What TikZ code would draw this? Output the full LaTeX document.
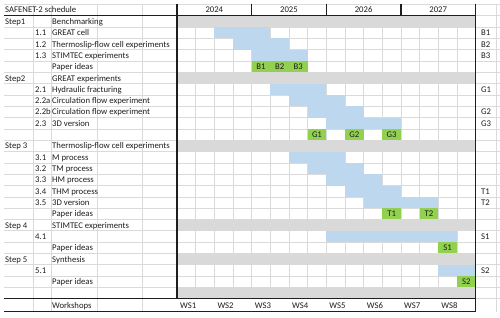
\documentclass[tikz,border=0pt]{standalone}
\usepackage{fontspec}
\setmainfont{Carlito}
\definecolor{gridgray}{HTML}{DADADA}
\definecolor{stepgray}{HTML}{D9D9D9}
\definecolor{barblue}{HTML}{BDD7EE}
\definecolor{papergreen}{HTML}{92D050}
\definecolor{ink}{HTML}{1E1E1E}
\begin{document}
\begin{tikzpicture}[x=1pt,y=-1pt,
  font=\fontsize{8.7}{9.5}\selectfont,
  gridline/.style={draw=gridgray, line width=0.6pt},
  heavy/.style={draw=ink, line width=1.2pt},
  txt/.style={anchor=base west, inner sep=0pt, text=ink},
  ctr/.style={anchor=base, inner sep=0pt, text=ink},
  graybar/.style={fill=stepgray},
  bluebar/.style={fill=barblue},
  greenbar/.style={fill=papergreen}]
\useasboundingbox[fill=white] (0,0) rectangle (500,317);
\def\rh{11.32}
\def\ty{15.7}
\def\gx{177}
\def\qw{18.66}
% grid lines
\foreach \i in {0,...,25} {
  \draw[gridline] (4,{\ty+\rh*\i}) -- (500,{\ty+\rh*\i});
}
\draw[gridline] (4,4) -- (500,4);
\foreach \x in {33,51,97,142} {
  \draw[gridline] (\x,4) -- (\x,311.5);
}
\foreach \q in {1,...,15} {
  \draw[gridline] ({\gx+\qw*\q},\ty) -- ({\gx+\qw*\q},{\ty+\rh*25});
}
\draw[gridline] (496,4) -- (496,311.5);
% helper for cells
\newcommand\gcell[4]{\fill[#4] ({\gx+\qw*#2},{\ty+\rh*#1}) rectangle ({\gx+\qw*(#3+1)},{\ty+\rh*(#1+1)});}
% gray step rows
\foreach \r in {0,5,11,18,21,24} { \gcell{\r}{0}{15}{graybar} }
% blue bars
\gcell{1}{2}{4}{bluebar}
\gcell{2}{3}{5}{bluebar}
\gcell{3}{4}{6}{bluebar}
\gcell{6}{5}{7}{bluebar}
\gcell{7}{6}{8}{bluebar}
\gcell{8}{7}{9}{bluebar}
\gcell{9}{8}{11}{bluebar}
\gcell{12}{6}{8}{bluebar}
\gcell{13}{7}{9}{bluebar}
\gcell{14}{8}{10}{bluebar}
\gcell{15}{9}{11}{bluebar}
\gcell{16}{10}{13}{bluebar}
\gcell{19}{8}{14}{bluebar}
\gcell{22}{14}{15}{bluebar}
% green paper cells with labels
\foreach \r/\q/\l in {4/4/B1,4/5/B2,4/6/B3,10/7/G1,10/9/G2,10/11/G3,17/11/T1,17/13/T2,20/14/S1,23/15/S2} {
  \gcell{\r}{\q}{\q}{greenbar}
  \node[ctr] (p\r\l) at ({\gx+\qw*(\q+0.5)},{\ty+\rh*(\r+1)-2.6}) {\l};
}
% heavy lines
\draw[heavy] (4,\ty) -- (475.6,\ty);
\draw[heavy] (4,{\ty+\rh*25}) -- (475.6,{\ty+\rh*25});
\draw[heavy] (4,311.5) -- (475.6,311.5);
\draw[heavy] (\gx,4) -- (\gx,{\ty+\rh*25});
\foreach \q in {4,8,12} {
  \draw[heavy] ({\gx+\qw*\q},4) -- ({\gx+\qw*\q},\ty);
}
\draw[heavy] (475.6,4) -- (475.6,311.5);
% header texts
\node[txt] (title) at (5,12.8) {SAFENET-2 schedule};
\foreach \y/\k in {2024/0,2025/1,2026/2,2027/3} {
  \node[ctr] (yr\y) at ({\gx+\qw*(4*\k+2)},12.8) {\y};
}
% row texts
\newcommand\rowtext[4]{%
  \node[txt] (s#1) at (5,{\ty+\rh*(#1+1)-2.6}) {#2};
  \node[txt] (n#1) at (35,{\ty+\rh*(#1+1)-2.6}) {#3};
  \node[txt] (t#1) at (52,{\ty+\rh*(#1+1)-2.6}) {#4};}
\rowtext{0}{Step1}{}{Benchmarking}
\rowtext{1}{}{1.1}{GREAT cell}
\rowtext{2}{}{1.2}{Thermoslip-flow cell experiments}
\rowtext{3}{}{1.3}{STIMTEC experiments}
\rowtext{4}{}{}{Paper ideas}
\rowtext{5}{Step2}{}{GREAT experiments}
\rowtext{6}{}{2.1}{Hydraulic fracturing}
\rowtext{7}{}{2.2a}{Circulation flow experiment}
\rowtext{8}{}{2.2b}{Circulation flow experiment}
\rowtext{9}{}{2.3}{3D version}
\rowtext{11}{Step 3}{}{Thermoslip-flow cell experiments}
\rowtext{12}{}{3.1}{M process}
\rowtext{13}{}{3.2}{TM process}
\rowtext{14}{}{3.3}{HM process}
\rowtext{15}{}{3.4}{THM process}
\rowtext{16}{}{3.5}{3D version}
\rowtext{17}{}{}{Paper ideas}
\rowtext{18}{Step 4}{}{STIMTEC experiments}
\rowtext{19}{}{4.1}{}
\rowtext{20}{}{}{Paper ideas}
\rowtext{21}{Step 5}{}{Synthesis}
\rowtext{22}{}{5.1}{}
\rowtext{23}{}{}{Paper ideas}
\node[txt] (ws) at (52,308.6) {Workshops};
\foreach \k in {1,...,8} {
  \node[txt] (ws\k) at ({\gx+\qw*(2*\k-2)+3},308.6) {WS\k};
}
% right column labels
\foreach \r/\l in {1/B1,2/B2,3/B3,6/G1,8/G2,9/G3,15/T1,16/T2,19/S1,22/S2} {
  \node[txt] (r\l) at (481,{\ty+\rh*(\r+1)-2.6}) {\l};
}
\end{tikzpicture}
\end{document}
